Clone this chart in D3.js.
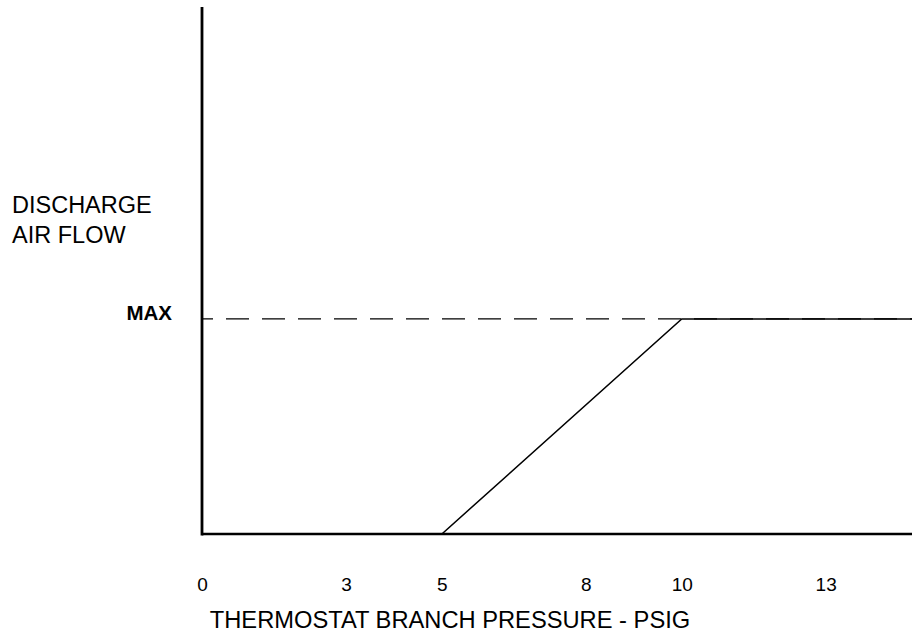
<!DOCTYPE html>
<html><head><meta charset="utf-8">
<script src="https://cdn.jsdelivr.net/npm/d3@7"></script>
<style>body{margin:0;background:#fff}svg{display:block}text{font-family:"Liberation Sans",Arial,sans-serif;fill:#000}</style>
</head><body>
<script>
// Data
const pressure = [0, 5, 10, 14.8];       // PSIG
const airflow = [0, 0, 1, 1];            // fraction of MAX
const tickValues = [0, 3, 5, 8, 10, 13];
const tickLabels = ["0", "3", "5", "8", "10", "13"];
const maxValue = 1;
const xMax = 14.8, yMax = 2.45;

const W = 912, H = 638;
const svg = d3.select("body").append("svg").attr("width", W).attr("height", H);

const x = d3.scaleLinear().domain([0, xMax]).range([202, 912]);
const y = d3.scaleLinear().domain([0, yMax]).range([534, 7]);

// MAX dashed line
svg.append("line")
  .attr("x1", x(0)).attr("x2", x(xMax))
  .attr("y1", y(maxValue)).attr("y2", y(maxValue))
  .attr("stroke", "#000").attr("stroke-width", 1.4)
  .attr("stroke-dasharray", "23,13").attr("stroke-dashoffset", 12);

// series
const pts = pressure.map((p, i) => [p, airflow[i]]);
svg.append("path")
  .attr("d", d3.line().x(d => x(d[0])).y(d => y(d[1]))(pts))
  .attr("fill", "none").attr("stroke", "#000").attr("stroke-width", 1.5);

// axes lines
svg.append("line").attr("x1", x(0)).attr("x2", x(0)).attr("y1", y(yMax)).attr("y2", y(0) + 1.5)
  .attr("stroke", "#000").attr("stroke-width", 2.8);
svg.append("line").attr("x1", x(0)).attr("x2", x(xMax)).attr("y1", y(0)).attr("y2", y(0))
  .attr("stroke", "#000").attr("stroke-width", 2.6);

// x tick labels
const ax = d3.axisBottom(x).tickValues(tickValues)
  .tickFormat((d, i) => tickLabels[i]).tickSize(0).tickPadding(44);
const g = svg.append("g").attr("transform", `translate(0,${y(0)})`).call(ax);
g.select(".domain").remove();
g.selectAll("text").style("font-size", "19px").style("font-family", '"Liberation Sans",Arial,sans-serif');

// x title
svg.append("text").attr("x", 450).attr("y", 628).attr("text-anchor", "middle")
  .style("font-size", "23.7px").text("THERMOSTAT BRANCH PRESSURE - PSIG");

// y title
svg.append("text").attr("x", 12).attr("y", 213).style("font-size", "23.5px").text("DISCHARGE");
svg.append("text").attr("x", 12).attr("y", 243).style("font-size", "23.5px").text("AIR FLOW");

// MAX label
svg.append("text").attr("x", 172).attr("y", 320).attr("text-anchor", "end")
  .style("font-size", "20.5px").style("font-weight", "bold").text("MAX");
</script>
</body></html>
